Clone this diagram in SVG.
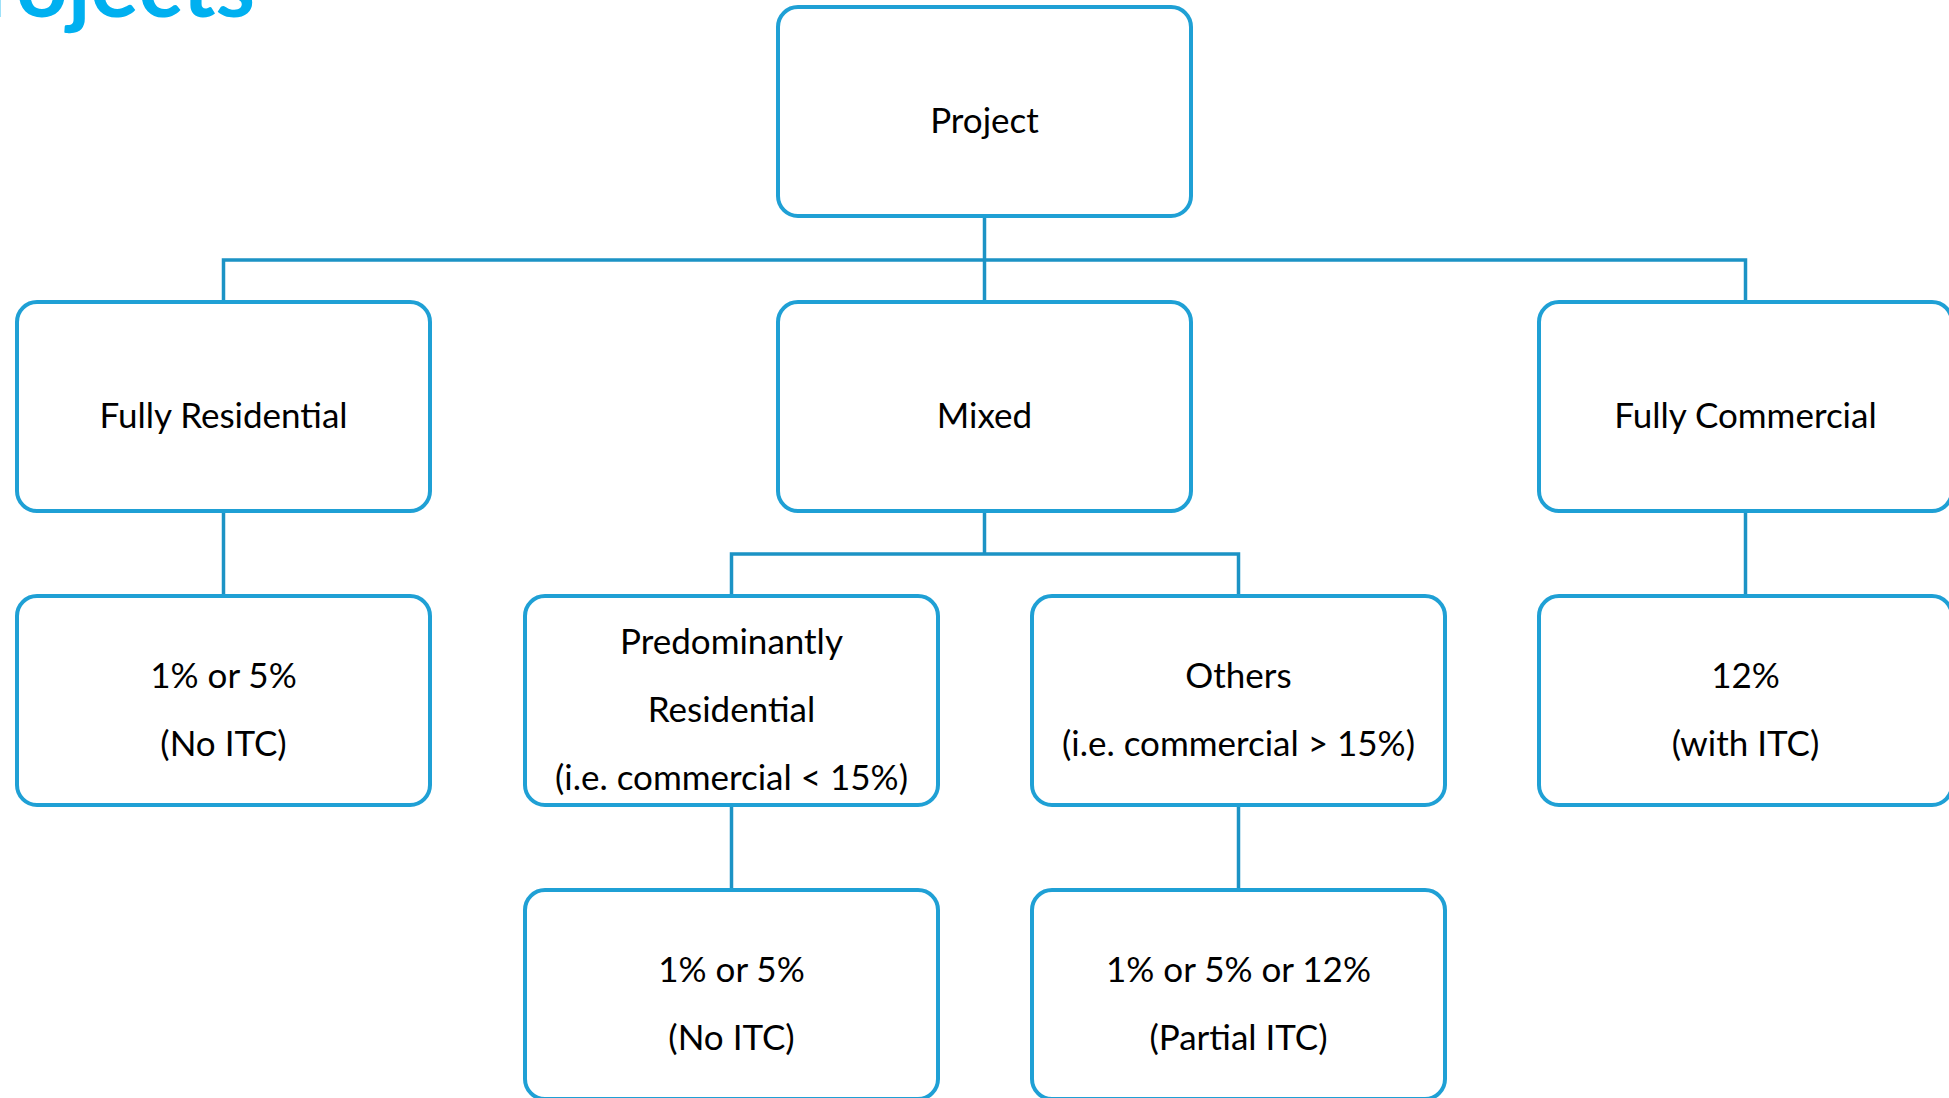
<svg xmlns="http://www.w3.org/2000/svg" width="1949" height="1098" viewBox="0 0 1949 1098">
  <style>
    .box { fill: #ffffff; stroke: #1FA0D5; stroke-width: 4; }
    .lbl { font-family: Lato, "Liberation Sans", sans-serif; font-size: 35px; fill: #000000; text-anchor: middle; }
    .wire { fill: none; stroke: #1C93C5; stroke-width: 3.5; }
    .title { font-family: Lato, "Liberation Sans", sans-serif; font-weight: 700; font-size: 90px; fill: #00B0F0; text-anchor: end; }
  </style>
  <rect width="1949" height="1098" fill="#ffffff"/>

  <!-- slide heading, running off the top-left corner -->
  <text class="title" x="255" y="17">Projects</text>

  <!-- tree connectors -->
  <g id="connectors">
    <path class="wire" d="M984.5 216 V302"/>
    <path class="wire" d="M223.5 302 V260 H1745.5 V302"/>
    <path class="wire" d="M223.5 511 V596"/>
    <path class="wire" d="M984.5 511 V554"/>
    <path class="wire" d="M731.5 596 V554 H1238.5 V596"/>
    <path class="wire" d="M1745.5 511 V596"/>
    <path class="wire" d="M731.5 805 V890"/>
    <path class="wire" d="M1238.5 805 V890"/>
  </g>

  <g id="project">
    <rect class="box" x="778" y="7" width="413" height="209" rx="20"/>
    <text class="lbl" x="984.5" y="132.5">Project</text>
  </g>

  <g id="fully-residential">
    <rect class="box" x="17" y="302" width="413" height="209" rx="20"/>
    <text class="lbl" x="223.5" y="427.5">Fully Residential</text>
  </g>

  <g id="mixed">
    <rect class="box" x="778" y="302" width="413" height="209" rx="20"/>
    <text class="lbl" x="984.5" y="427.5">Mixed</text>
  </g>

  <g id="fully-commercial">
    <rect class="box" x="1539" y="302" width="413" height="209" rx="20"/>
    <text class="lbl" x="1745.5" y="427.5">Fully Commercial</text>
  </g>

  <g id="residential-rate">
    <rect class="box" x="17" y="596" width="413" height="209" rx="20"/>
    <text class="lbl" x="223.5" y="687.5">1% or 5%</text>
    <text class="lbl" x="223.5" y="755.5">(No ITC)</text>
  </g>

  <g id="predominantly-residential">
    <rect class="box" x="525" y="596" width="413" height="209" rx="20"/>
    <text class="lbl" x="731.5" y="653.5">Predominantly</text>
    <text class="lbl" x="731.5" y="721.5">Residential</text>
    <text class="lbl" x="731.5" y="789.5">(i.e. commercial &lt; 15%)</text>
  </g>

  <g id="others">
    <rect class="box" x="1032" y="596" width="413" height="209" rx="20"/>
    <text class="lbl" x="1238.5" y="687.5">Others</text>
    <text class="lbl" x="1238.5" y="755.5">(i.e. commercial &gt; 15%)</text>
  </g>

  <g id="commercial-rate">
    <rect class="box" x="1539" y="596" width="413" height="209" rx="20"/>
    <text class="lbl" x="1745.5" y="687.5">12%</text>
    <text class="lbl" x="1745.5" y="755.5">(with ITC)</text>
  </g>

  <g id="predominant-rate">
    <rect class="box" x="525" y="890" width="413" height="209" rx="20"/>
    <text class="lbl" x="731.5" y="981.5">1% or 5%</text>
    <text class="lbl" x="731.5" y="1049.5">(No ITC)</text>
  </g>

  <g id="others-rate">
    <rect class="box" x="1032" y="890" width="413" height="209" rx="20"/>
    <text class="lbl" x="1238.5" y="981.5">1% or 5% or 12%</text>
    <text class="lbl" x="1238.5" y="1049.5">(Partial ITC)</text>
  </g>
</svg>
